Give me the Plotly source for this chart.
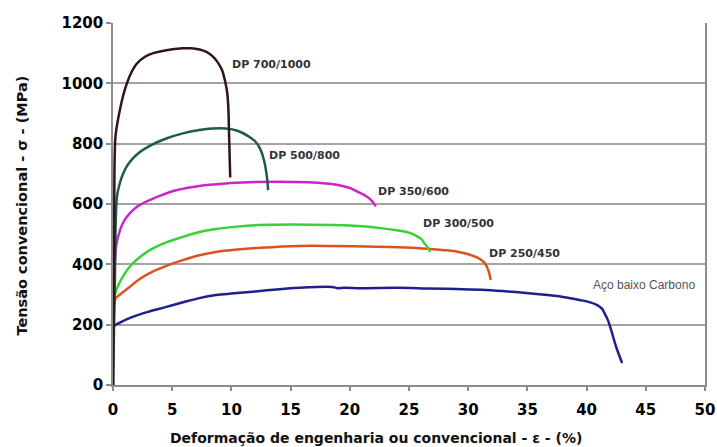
import plotly.graph_objects as go

# Engineering stress-strain curves for dual-phase steels and a low-carbon steel
dp700_x = [0, 0.1, 0.2, 0.4, 0.6, 0.85, 1.17, 1.6, 2.0, 2.7, 3.4, 4.5, 5.9, 6.6, 7.3, 7.9, 8.4, 8.8, 9.2, 9.45, 9.65, 9.75, 9.8, 9.85, 9.9]
dp700_y = [0, 420, 820, 875, 915, 958, 1000, 1040, 1065, 1088, 1100, 1110, 1116, 1116, 1112, 1104, 1090, 1072, 1045, 1010, 968, 910, 835, 760, 688]

dp500_x = [0, 0.15, 0.33, 0.55, 0.85, 1.2, 1.7, 2.3, 3.1, 4.5, 5.9, 7.3, 8.4, 9.5, 10.5, 11.5, 12.0, 12.4, 12.75, 13.0, 13.1]
dp500_y = [0, 330, 623, 665, 700, 727, 752, 773, 793, 817, 834, 845, 850, 850, 843, 823, 808, 785, 746, 690, 646]

dp350_x = [0, 0.1, 0.25, 0.6, 1.0, 1.4, 2.0, 3.1, 4.0, 5.5, 7.3, 9.5, 11.5, 14.0, 16.5, 18.0, 19.0, 20.0, 20.7, 21.3, 21.8, 22.2]
dp350_y = [0, 300, 457, 514, 548, 568, 590, 613, 628, 647, 660, 668, 672, 674, 672, 668, 663, 653, 640, 628, 613, 592]

dp300_x = [0, 0.15, 0.5, 1.0, 1.4, 2.0, 3.1, 4.5, 5.9, 7.3, 8.7, 10.5, 12.3, 15.0, 18.5, 21.0, 22.6, 24.1, 25.0, 25.5, 26.0, 26.3, 26.6, 26.8]
dp300_y = [0, 298, 335, 370, 391, 415, 447, 473, 491, 507, 517, 525, 530, 532, 530, 526, 520, 512, 505, 497, 485, 470, 455, 441]

dp250_x = [0, 0.2, 0.6, 1.4, 2.2, 3.1, 4.5, 5.9, 7.3, 8.7, 10.5, 12.5, 15.7, 18.5, 21.3, 24.1, 26.5, 28.0, 29.2, 30.2, 30.9, 31.4, 31.7, 31.9]
dp250_y = [0, 285, 300, 325, 350, 371, 395, 414, 430, 441, 449, 455, 461, 461, 459, 457, 452, 447, 441, 431, 420, 404, 380, 348]

lowc_x = [0, 0.1, 0.5, 1.6, 3.0, 4.5, 6.0, 7.3, 8.7, 10.0, 11.5, 13.0, 14.5, 16.5, 18.5, 19.0, 19.5, 21.0, 24.1, 26.5, 29.0, 31.5, 34.0, 36.7, 38.0, 39.4, 40.3, 40.9, 41.3, 41.5, 41.8, 42.0, 42.5, 43.0]
lowc_y = [0, 195, 205, 225, 243, 259, 275, 288, 298, 303, 308, 314, 319, 324, 325, 321, 322, 321, 322, 320, 318, 315, 308, 298, 292, 282, 274, 265, 253, 239, 215, 192, 126, 73]

curve_names = ["Aço baixo Carbono", "DP 250/450", "DP 300/500", "DP 350/600", "DP 500/800", "DP 700/1000"]
curve_x = [lowc_x, dp250_x, dp300_x, dp350_x, dp500_x, dp700_x]
curve_y = [lowc_y, dp250_y, dp300_y, dp350_y, dp500_y, dp700_y]
curve_colors = ["#1f1f8f", "#d9531f", "#36d236", "#c925c9", "#1f5a4b", "#2e1616"]

# label anchor (left edge, vertical centre) in data coordinates
label_x = [40.4, 31.6, 26.0, 22.2, 13.0, 9.9]
label_y = [331, 437, 534, 643, 762, 1061]

x_ticks = [0, 5, 10, 15, 20, 25, 30, 35, 40, 45, 50]
y_ticks = [0, 200, 400, 600, 800, 1000, 1200]

fig = go.Figure()
for name, xs, ys, col in zip(curve_names, curve_x, curve_y, curve_colors):
    fig.add_trace(go.Scatter(x=xs, y=ys, mode="lines", name=name,
                             line=dict(color=col, width=2.5, shape="spline", smoothing=1.0),
                             showlegend=False, hoverinfo="skip"))

for name, lx, ly in zip(curve_names, label_x, label_y):
    if name.startswith("DP"):
        font = dict(family="DejaVu Sans", size=11, color="#333333", weight="bold")
    else:
        font = dict(family="Liberation Sans", size=12, color="#555555")
    fig.add_annotation(x=lx, y=ly, text=name, showarrow=False,
                       xanchor="left", yanchor="middle", font=font)

# axis titles
fig.add_annotation(xref="paper", yref="paper", x=0.445, y=-0.146,
                   text="Deformação de engenharia ou convencional - ε - (%)",
                   showarrow=False, xanchor="center", yanchor="middle",
                   font=dict(family="DejaVu Sans", size=14, color="#111111", weight="bold"))
fig.add_annotation(xref="paper", yref="paper", x=-0.153, y=0.497,
                   text="Tensão convencional - σ - (MPa)", textangle=-90,
                   showarrow=False, xanchor="center", yanchor="middle",
                   font=dict(family="DejaVu Sans", size=14.5, color="#111111", weight="bold"))

tick_font = dict(family="DejaVu Sans", size=15, color="#000000", weight="bold")
fig.update_xaxes(range=[0, 50], tickvals=x_ticks, showgrid=False, zeroline=False,
                 showline=True, linecolor="#8c8c8c", linewidth=1.5,
                 ticks="outside", ticklen=4, tickcolor="#8c8c8c", tickwidth=1.5,
                 tickfont=tick_font, ticklabelstandoff=6, ticklabeloverflow="allow",
                 automargin=False)
fig.update_yaxes(range=[0, 1200], tickvals=y_ticks, showgrid=True, gridcolor="#a3a3a3",
                 gridwidth=1.5, zeroline=False, showline=True, mirror=True,
                 linecolor="#8c8c8c", linewidth=1.5,
                 ticks="outside", ticklen=5, tickcolor="#8c8c8c", tickwidth=1.5,
                 tickfont=tick_font, automargin=False)
fig.update_layout(width=717, height=447, margin=dict(l=113, r=12, t=23, b=62),
                  plot_bgcolor="white", paper_bgcolor="white")

fig.write_html("out.html")
